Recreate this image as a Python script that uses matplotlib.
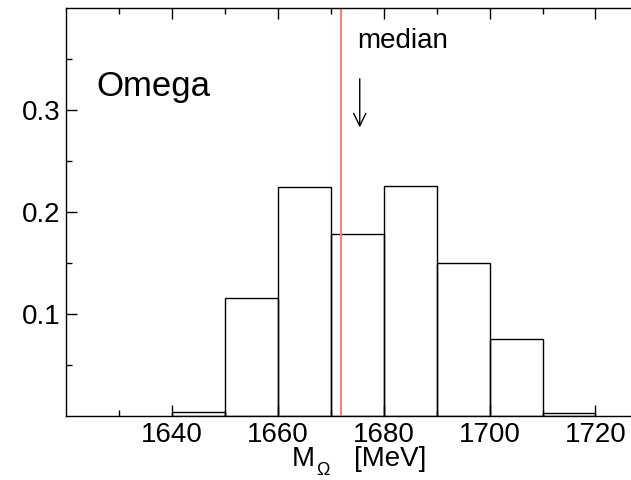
import matplotlib
matplotlib.use("Agg")
from matplotlib import pyplot as plt
from matplotlib.patches import FancyArrowPatch

plt.rcParams['font.family'] = ['Liberation Sans', 'DejaVu Sans']

# данные гистограммы
bin_left = [1640, 1650, 1660, 1670, 1680, 1690, 1700, 1710]
heights = [0.0036, 0.116, 0.2245, 0.179, 0.226, 0.1497, 0.0752, 0.0027]
bin_width = 10
median = 1672.0
x_major = [1640, 1660, 1680, 1700, 1720]
x_minor = [1630, 1650, 1670, 1690, 1710, 1730]
y_major = [0.1, 0.2, 0.3]
y_minor = [0.05, 0.15, 0.25, 0.35]

fig = plt.figure(figsize=(6.31, 4.8), dpi=100)
# правый край оси уходит за пределы картинки
ax = fig.add_axes([65.75 / 631, 64 / 480, 582.7 / 631, 407.7 / 480])

ax.bar(bin_left, heights, width=bin_width, align='edge', fill=False,
       edgecolor='black', linewidth=1.0)
ax.axvline(median, color='#ff8080', linewidth=1.5)

ax.set_xlim(1620, 1730)
ax.set_ylim(0, 0.4)
ax.set_xticks(x_major)
ax.set_xticks(x_minor, minor=True)
ax.set_yticks(y_major)
ax.set_yticks(y_minor, minor=True)
ax.set_yticklabels(["0.1", "0.2", "0.3"])

ax.spines['right'].set_visible(False)
for s in ['left', 'bottom', 'top']:
    ax.spines[s].set_linewidth(1.0)

ax.tick_params(axis='both', which='both', direction='in', width=1.0,
               labelsize=20, pad=4)
ax.tick_params(axis='x', which='both', top=True)
ax.tick_params(axis='y', which='both', right=False)
ax.tick_params(which='major', length=8)
ax.tick_params(which='minor', length=4.3)

ax.text(1625.7, 0.314, "Omega", fontsize=25, va='baseline', ha='left')
ax.text(1675.0, 0.361, "median", fontsize=20, va='baseline', ha='left')

arrow = FancyArrowPatch((1675.5, 0.3336), (1675.5, 0.2804),
                        arrowstyle='->, head_length=0.45, head_width=0.22',
                        mutation_scale=20, color='black', linewidth=1.0)
ax.add_patch(arrow)

# подпись оси x: M, нижний индекс Ω, единицы
fig.text(291.7 / 631, 14 / 480, "M", fontsize=20, va='baseline', ha='left')
fig.text(316 / 631, 5 / 480, "Ω", fontsize=13, va='baseline', ha='left')
fig.text(354 / 631, 14 / 480, "[MeV]", fontsize=20, va='baseline', ha='left')

fig.savefig("out.png", dpi=100)
